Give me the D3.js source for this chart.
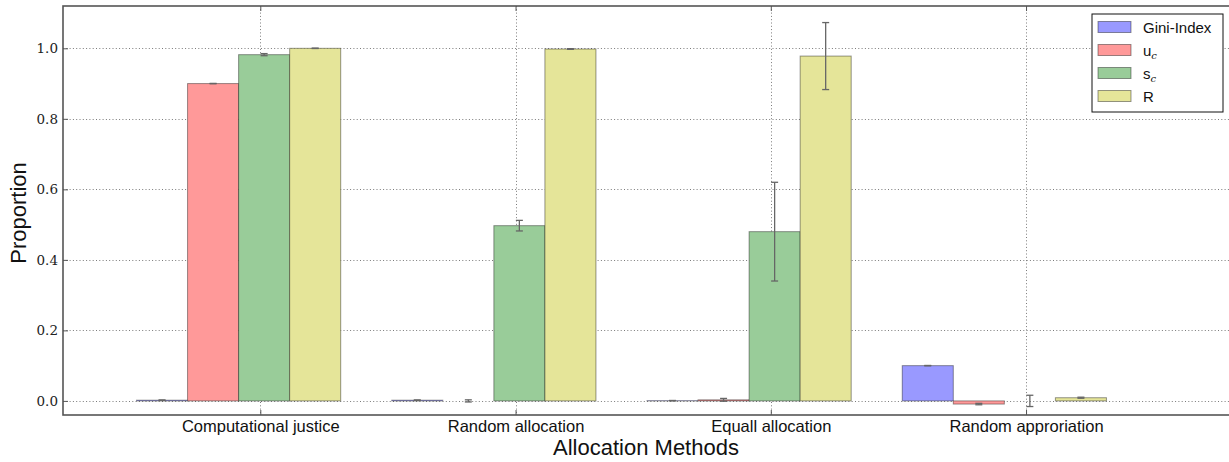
<!DOCTYPE html>
<html>
<head>
<meta charset="utf-8">
<script src="https://cdn.jsdelivr.net/npm/d3@7"></script>
<style>
  body { margin: 0; background: #fff; }
  svg { display: block; }
</style>
</head>
<body>
<div id="chart"></div>
<script>
// Data
const categories = ["Computational justice", "Random allocation", "Equall allocation", "Random approriation"];
const seriesNames = ["Gini-Index", "u", "s", "R"];
const seriesSubs = ["", "c", "c", ""];
const giniVals = [0.002, 0.002, 0.0008, 0.1];
const giniErr = [0.0008, 0.0008, 0.0004, 0.0005];
const ucVals = [0.9, 0.0, 0.003, -0.009];
const ucErr = [0.0005, 0.003, 0.004, 0.002];
const scVals = [0.982, 0.497, 0.48, 0.0];
const scErr = [0.003, 0.015, 0.14, 0.016];
const rVals = [1.0, 0.998, 0.978, 0.009];
const rErr = [0.0005, 0.001, 0.095, 0.0015];
const yTicks = [0.0, 0.2, 0.4, 0.6, 0.8, 1.0];
const colors = ["#9999ff", "#ff9999", "#99cc99", "#e5e599"];

const seriesVals = [giniVals, ucVals, scVals, rVals];
const seriesErrs = [giniErr, ucErr, scErr, rErr];

const W = 1229, H = 462;
const plot = { left: 63, right: 1231, top: 6, bottom: 415 };
const barW = 0.2;

const svg = d3.select("#chart").append("svg")
    .attr("width", W)
    .attr("height", H);

// Scales
const x = d3.scaleLinear()
    .domain([-0.288, 4.288])
    .range([plot.left, plot.right]);

const y = d3.scaleLinear()
    .domain([-0.04, 1.12])
    .range([plot.bottom, plot.top]);

const tickPos = categories.map((c, i) => i + 0.485);

// Grid
const grid = svg.append("g")
    .attr("stroke", "#7a7a7a")
    .attr("stroke-width", 1)
    .attr("stroke-dasharray", "1,2.3");
grid.selectAll("line.h")
    .data(yTicks)
    .join("line")
    .attr("class", "h")
    .attr("x1", plot.left).attr("x2", plot.right)
    .attr("y1", d => Math.round(y(d)) + 0.5)
    .attr("y2", d => Math.round(y(d)) + 0.5);
grid.selectAll("line.v")
    .data(tickPos)
    .join("line")
    .attr("class", "v")
    .attr("y1", plot.top).attr("y2", plot.bottom)
    .attr("x1", d => Math.round(x(d)) + 0.5)
    .attr("x2", d => Math.round(x(d)) + 0.5);

// Bars
const barData = [];
seriesVals.forEach((vals, s) => {
    vals.forEach((v, i) => {
        barData.push({ s, i, v, e: seriesErrs[s][i] });
    });
});

svg.append("g")
    .selectAll("rect")
    .data(barData)
    .join("rect")
    .attr("x", d => x(d.i + d.s * barW))
    .attr("width", x(barW) - x(0))
    .attr("y", d => y(Math.max(0, d.v)))
    .attr("height", d => Math.abs(y(d.v) - y(0)))
    .attr("fill", d => colors[d.s])
    .attr("stroke", "rgba(0,0,0,0.4)")
    .attr("stroke-width", 1);

// Error bars
const errG = svg.append("g")
    .attr("stroke", "#666")
    .attr("stroke-width", 1.3);
const cap = 3.5;
const eb = errG.selectAll("g")
    .data(barData)
    .join("g")
    .attr("transform", d => `translate(${x(d.i + d.s * barW + barW / 2)},0)`);
eb.append("line")
    .attr("y1", d => y(d.v + d.e))
    .attr("y2", d => y(d.v - d.e));
eb.append("line")
    .attr("x1", -cap).attr("x2", cap)
    .attr("y1", d => y(d.v + d.e)).attr("y2", d => y(d.v + d.e));
eb.append("line")
    .attr("x1", -cap).attr("x2", cap)
    .attr("y1", d => y(d.v - d.e)).attr("y2", d => y(d.v - d.e));

// Axes (ticks inside, on all sides)
const tickLen = 5;
const axisColor = "#555";

const yAxis = svg.append("g")
    .attr("transform", `translate(${plot.left},0)`)
    .call(d3.axisLeft(y).tickValues(yTicks).tickSize(-tickLen).tickPadding(5).tickFormat(d3.format(".1f")));
yAxis.select(".domain").remove();
yAxis.selectAll("line").attr("stroke", axisColor);
yAxis.selectAll("text")
    .attr("font-family", "'DejaVu Serif', 'Liberation Serif', serif")
    .attr("font-size", 13.5)
    .attr("fill", "#222");

const xAxis = svg.append("g")
    .attr("transform", `translate(0,${plot.bottom})`)
    .call(d3.axisBottom(x).tickValues(tickPos).tickSize(-tickLen).tickPadding(5)
        .tickFormat((d, i) => categories[i]));
xAxis.select(".domain").remove();
xAxis.selectAll("line").attr("stroke", axisColor);
xAxis.selectAll("text")
    .attr("font-family", "'Liberation Sans', Arial, sans-serif")
    .attr("font-size", 16.5)
    .attr("fill", "#111");

const xTop = svg.append("g")
    .attr("transform", `translate(0,${plot.top})`)
    .call(d3.axisTop(x).tickValues(tickPos).tickSize(-tickLen).tickFormat(""));
xTop.select(".domain").remove();
xTop.selectAll("line").attr("stroke", axisColor);

// Frame
svg.append("rect")
    .attr("x", plot.left)
    .attr("y", plot.top)
    .attr("width", plot.right - plot.left)
    .attr("height", plot.bottom - plot.top)
    .attr("fill", "none")
    .attr("stroke", axisColor)
    .attr("stroke-width", 1.6);

// Axis titles
svg.append("text")
    .attr("x", 646)
    .attr("y", 455)
    .attr("text-anchor", "middle")
    .attr("font-family", "'Liberation Sans', Arial, sans-serif")
    .attr("font-size", 22)
    .attr("fill", "#111")
    .text("Allocation Methods");

svg.append("text")
    .attr("transform", `translate(26,213) rotate(-90)`)
    .attr("text-anchor", "middle")
    .attr("font-family", "'Liberation Sans', Arial, sans-serif")
    .attr("font-size", 22)
    .attr("fill", "#111")
    .text("Proportion");

// Legend
const legend = svg.append("g").attr("transform", "translate(1092,14)");
legend.append("rect")
    .attr("width", 131)
    .attr("height", 98)
    .attr("fill", "#fff")
    .attr("stroke", "#111")
    .attr("stroke-width", 1);
const items = legend.selectAll("g.item")
    .data(seriesNames)
    .join("g")
    .attr("class", "item")
    .attr("transform", (d, i) => `translate(6,${13 + i * 23})`);
items.append("rect")
    .attr("y", -5.5)
    .attr("width", 33)
    .attr("height", 11)
    .attr("fill", (d, i) => colors[i])
    .attr("stroke", "rgba(0,0,0,0.4)");
const lt = items.append("text")
    .attr("x", 45)
    .attr("y", 5.5)
    .attr("font-family", "'Liberation Sans', Arial, sans-serif")
    .attr("font-size", 15)
    .attr("fill", "#111");
lt.append("tspan").text(d => d);
lt.filter((d, i) => seriesSubs[i] !== "")
    .append("tspan")
    .attr("dy", 3)
    .attr("font-family", "'DejaVu Serif', 'Liberation Serif', serif")
    .attr("font-style", "italic")
    .attr("font-size", 10)
    .text((d) => "c");
</script>
</body>
</html>
